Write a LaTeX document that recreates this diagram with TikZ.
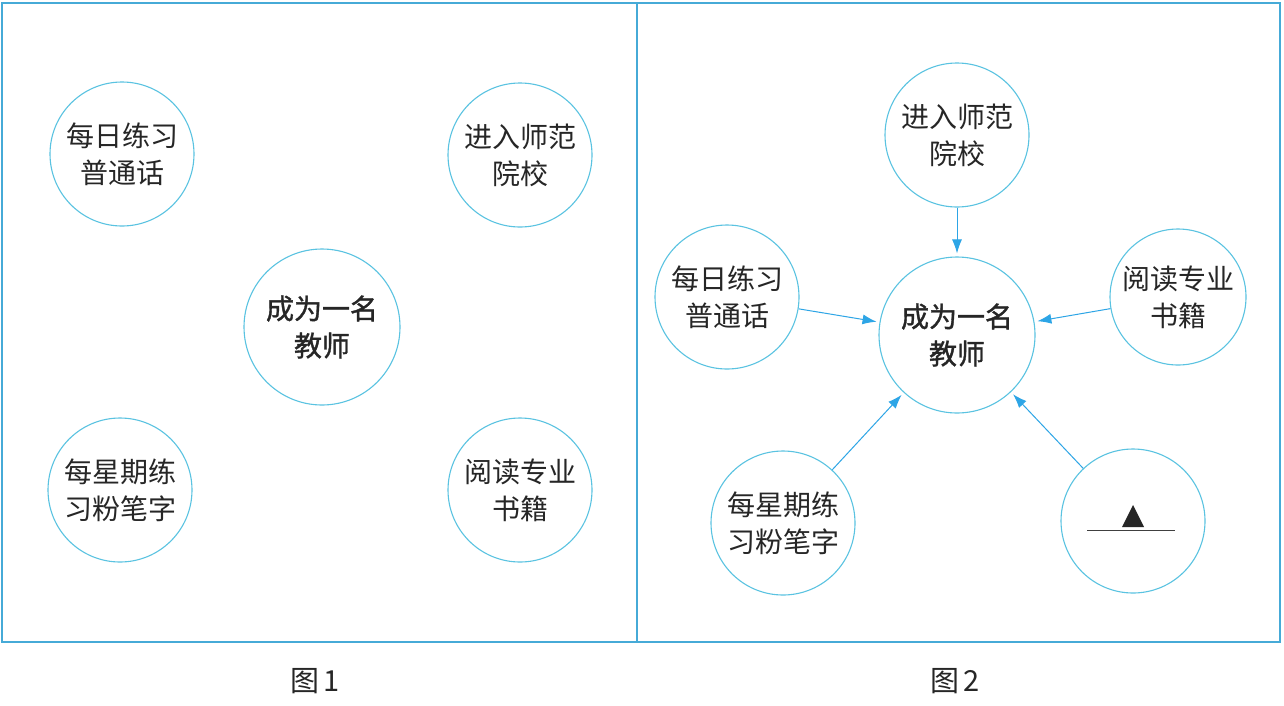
\documentclass[tikz,border=0pt]{standalone}
\usepackage{fontspec}
\newfontfamily\cjk{Noto Sans CJK SC}
\newfontfamily\cjkb{Noto Sans CJK SC}[FakeBold=1.2]
\usetikzlibrary{arrows.meta}
\definecolor{ring}{RGB}{90,195,225}
\definecolor{frame}{RGB}{70,170,215}
\definecolor{arr}{RGB}{45,165,230}
\tikzset{
  bubble/.style={circle, draw=ring, line width=1.1pt, minimum size=#1, inner sep=0pt, align=center,
    font=\cjk\fontsize{28}{37}\selectfont, text=black!85},
  bubble/.default=144pt,
  core/.style={bubble=156pt, font=\cjkb\fontsize{28}{37}\selectfont},
  link/.style={draw=arr, line width=1pt, -{Latex[length=14pt,width=10pt]}, shorten >=3pt},
  figcaption/.style={font=\cjk\fontsize{29}{32}\selectfont, text=black!85}
}
\begin{document}
\begin{tikzpicture}[x=1pt,y=-1pt]
\useasboundingbox (0,0) rectangle (1284,705);
\fill[white] (0,0) rectangle (1284,705);
\draw[frame, line width=1.1pt] (2,3) rectangle (1280,642);
\draw[frame, line width=1.1pt] (637,3) -- (637,642);
% panel 1
\node[bubble] (a1) at (122,154) {每日练习\\普通话};
\node[bubble] (b1) at (520,155) {进入师范\\院校};
\node[core] (c1) at (322,327) {成为一名\\教师};
\node[bubble] (d1) at (120,490) {每星期练\\习粉笔字};
\node[bubble] (e1) at (520,490) {阅读专业\\书籍};
% panel 2
\node[bubble] (b2) at (957,135) {进入师范\\院校};
\node[core] (c2) at (957,335) {成为一名\\教师};
\node[bubble] (a2) at (727,297) {每日练习\\普通话};
\node[bubble=136pt] (e2) at (1178,297) {阅读专业\\书籍};
\node[bubble] (d2) at (783,523) {每星期练\\习粉笔字};
\node[bubble] (f2) at (1133,521) {};
\fill[black!85] (1122,527) -- (1144,527) -- (1133,505) -- cycle;
\draw[black!75, line width=1pt] (1087,530.5) -- (1175,530.5);
\draw[link] (b2) -- (c2);
\draw[link] (a2) -- (c2);
\draw[link] (e2) -- (c2);
\draw[link] (d2) -- (c2);
\draw[link] (f2) -- (c2);
% captions
\node[figcaption] (t1) at (315,681) {图\,1};
\node[figcaption] (t2) at (955,681) {图\,2};
\end{tikzpicture}
\end{document}
